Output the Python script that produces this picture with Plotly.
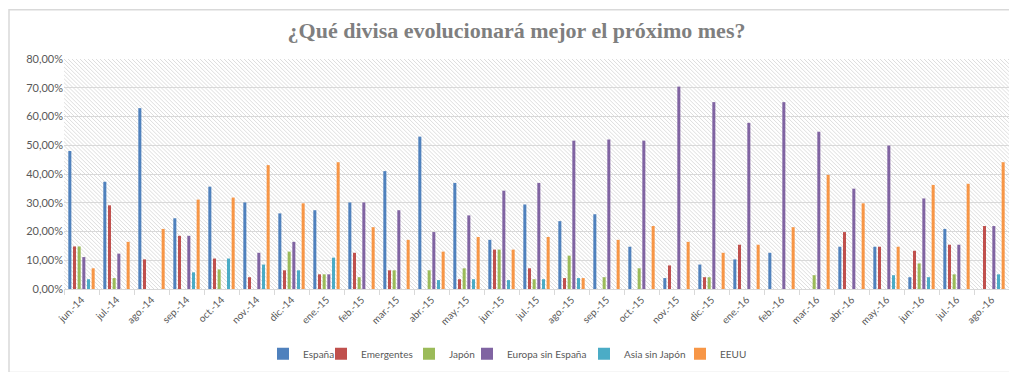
import base64
import plotly.graph_objects as go

categories = ["jun.-14", "jul.-14", "ago.-14", "sep.-14", "oct.-14", "nov.-14", "dic.-14",
              "ene.-15", "feb.-15", "mar.-15", "abr.-15", "may.-15", "jun.-15", "jul.-15",
              "ago.-15", "sep.-15", "oct.-15", "nov.-15", "dic.-15", "ene.-16", "feb.-16",
              "mar.-16", "abr.-16", "may.-16", "jun.-16", "jul.-16", "ago.-16"]

espana = [48.0, 37.3, 62.9, 24.6, 35.6, 30.1, 26.3, 27.4, 30.1, 41.0, 53.0, 36.9, 17.1, 29.4,
          23.6, 26.0, 14.7, 3.8, 8.5, 10.3, 12.6, 0, 14.7, 14.7, 4.1, 20.9, 0]
emergentes = [14.8, 29.1, 10.3, 18.5, 10.6, 4.1, 6.5, 5.1, 12.6, 6.5, 0, 3.4, 13.7, 7.2,
              3.8, 0, 0, 8.2, 4.1, 15.4, 0, 0, 19.8, 14.7, 13.3, 15.4, 21.9]
japon = [14.8, 3.8, 0, 0, 6.8, 0, 13.0, 5.1, 4.1, 6.5, 6.5, 7.2, 13.7, 3.4,
         11.6, 4.1, 7.2, 0, 4.1, 0, 0, 4.8, 0, 0, 8.9, 5.1, 0]
europa = [11.1, 12.3, 0, 18.5, 0, 12.6, 16.4, 5.1, 30.1, 27.4, 19.8, 25.6, 34.2, 36.9,
          51.6, 52.0, 51.6, 70.4, 65.0, 57.8, 65.0, 54.7, 34.9, 49.9, 31.5, 15.4, 21.9]
asia = [3.4, 0, 0, 5.8, 10.6, 8.5, 6.5, 10.9, 0, 0, 3.1, 3.4, 3.1, 3.4,
        3.8, 0, 0, 0, 0, 0, 0, 0, 0, 4.8, 4.1, 0, 5.1]
eeuu = [7.2, 16.4, 20.9, 31.1, 31.8, 43.1, 29.8, 44.1, 21.5, 17.1, 13.0, 18.1, 13.7, 18.1,
        3.8, 17.1, 21.9, 16.4, 12.6, 15.4, 21.5, 39.7, 29.8, 14.7, 36.2, 36.6, 44.1]

series_names = ["España", "Emergentes", "Japón", "Europa sin España", "Asia sin Japón", "EEUU"]
series_values = [espana, emergentes, japon, europa, asia, eeuu]
series_colors = ["#4F81BD", "#C0504D", "#9BBB59", "#8064A2", "#4BACC6", "#F79646"]
# legend text start positions (pixels), close to the reference
legend_px = [300, 358, 446, 504, 621, 717]

L, T, PW, PH = 56, 51, 945, 234

fig = go.Figure()
legend_layouts = {}
for i, (name, vals, color) in enumerate(zip(series_names, series_values, series_colors)):
    lname = "legend" if i == 0 else f"legend{i + 1}"
    fig.add_trace(go.Bar(
        x=categories, y=[v / 100 for v in vals], name=name, legend=lname,
        marker=dict(color=color, line=dict(width=0)),
    ))
    legend_layouts[lname] = dict(
        orientation="h", x=(legend_px[i] - 45 - L) / PW, xanchor="left",
        y=(T + PH - 351) / PH, yanchor="middle", bgcolor="rgba(0,0,0,0)",
        font=dict(size=10, color="#595959"), itemwidth=30)

# hatch background image for plot area
svg = (f'<svg xmlns="http://www.w3.org/2000/svg" width="{PW}" height="{PH}" viewBox="0 0 {PW} {PH}">'
       '<defs><pattern id="p" width="4" height="4" patternUnits="userSpaceOnUse">'
       '<path d="M-1,-1 L5,5 M-1,3 L1,5 M3,-1 L5,1" stroke="#d4d4d4" stroke-width="0.8"/>'
       '</pattern></defs>'
       f'<rect width="{PW}" height="{PH}" fill="white"/><rect width="{PW}" height="{PH}" fill="url(#p)"/></svg>')
src = "data:image/svg+xml;base64," + base64.b64encode(svg.encode()).decode()

fig.update_layout(
    width=1017, height=372,
    margin=dict(l=L, r=1017 - L - PW, t=T, b=372 - T - PH),
    paper_bgcolor="white", plot_bgcolor="rgba(0,0,0,0)",
    separators=",.",
    font=dict(family="Lato, Open Sans, sans-serif", size=11, color="#595959"),
    title=dict(text="<b>¿Qué divisa evolucionará mejor el próximo mes?</b>",
               x=0.5, xref="container", xanchor="center", y=1 - 22 / 372, yanchor="middle",
               font=dict(family="Liberation Serif, DejaVu Serif, serif", size=22, color="#7f7f7f")),
    bargap=0.2, bargroupgap=0.35, barmode="group",
    showlegend=True,
    images=[dict(source=src, xref="paper", yref="paper", x=0, y=1, sizex=1, sizey=1,
                 xanchor="left", yanchor="top", sizing="stretch", layer="below")],
    shapes=[dict(type="rect", xref="paper", yref="paper",
                 x0=(1 - L) / PW, x1=(1015 - L) / PW,
                 y0=(T + PH - 370) / PH, y1=(T + PH - 1) / PH,
                 line=dict(color="#d9d9d9", width=1.5), fillcolor="rgba(0,0,0,0)", layer="below")],
    **legend_layouts,
)
fig.update_yaxes(range=[0, 0.8], dtick=0.1, tickformat=".2%", showgrid=True,
                 gridcolor="#d9d9d9", gridwidth=1, zeroline=False, showline=False,
                 tickfont=dict(size=11, color="#595959"))
fig.update_xaxes(type="category", tickangle=-45, tickson="boundaries", ticks="outside",
                 ticklen=5, tickcolor="#d9d9d9", showline=True, linecolor="#d9d9d9",
                 showgrid=False, tickfont=dict(size=10, color="#595959"))

fig.write_html("out.html")
